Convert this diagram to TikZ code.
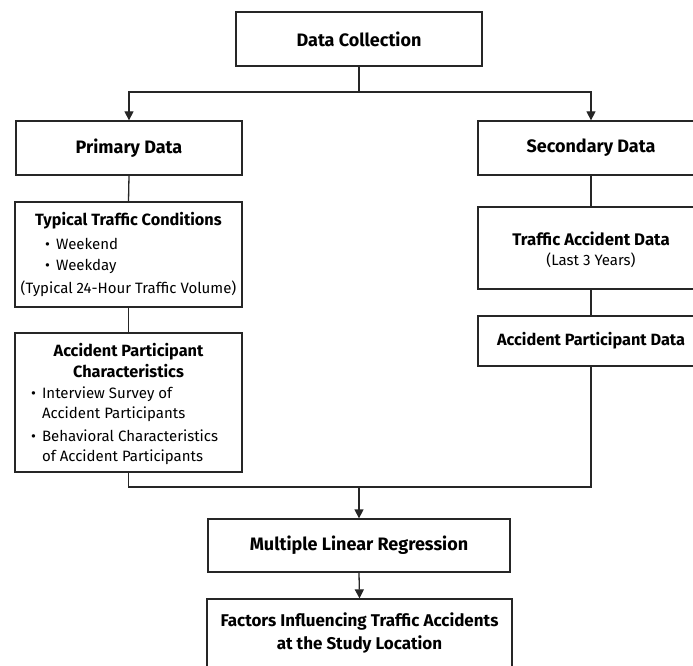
\documentclass[tikz,border=0pt]{standalone}
\usepackage{fontspec}
\setmainfont{Fira Sans}
\usetikzlibrary{arrows.meta}
\begin{document}
\begin{tikzpicture}[x=1pt,y=-1pt,
  box/.style={draw=black!85, line width=1.3pt, rectangle, inner sep=0pt, align=center},
  big/.style={font=\fontsize{18}{23}\selectfont\bfseries, align=center, inner sep=0pt},
  ttl/.style={font=\fontsize{16.3}{21}\selectfont\bfseries, align=center, inner sep=0pt},
  txt/.style={font=\fontsize{15}{20}\selectfont, align=left, inner sep=0pt},
  ln/.style={line width=1.3pt, draw=black!85},
  arr/.style={ln, -{Triangle[length=9pt,width=9pt]}}]
\clip (0,0) rectangle (693,666);
\fill[white] (0,0) rectangle (693,666);
% boxes
\node[box, big, minimum width=246pt, minimum height=54pt] (dc) at (359,39) {Data Collection};
\node[box, big, minimum width=226pt, minimum height=54pt] (pd) at (129,148) {Primary Data};
\node[box, big, minimum width=226pt, minimum height=54pt] (sd) at (591,148) {Secondary Data};
\node[box, minimum width=227pt, minimum height=105pt] (ttc) at (128.5,254.5) {};
\node[box, minimum width=227pt, minimum height=139pt] (apc) at (128.5,402.5) {};
\node[box, minimum width=226pt, minimum height=82pt] (tad) at (591,248) {};
\node[box, ttl, minimum width=226pt, minimum height=50pt] (apd) at (591,341) {Accident Participant Data};
\node[box, big, minimum width=302pt, minimum height=53pt] (mlr) at (359,545.5) {Multiple Linear Regression};
\node[box, minimum width=305pt, minimum height=82pt] (fac) at (359.5,640) {};
% texts inside
\node[ttl] (ttct) at (128.5,221) {Typical Traffic Conditions};
\node[txt, anchor=west] (ttc1) at (45,244) {•\hspace{6pt}Weekend};
\node[txt, anchor=west] (ttc2) at (45,266.5) {•\hspace{6pt}Weekday};
\node[txt] (ttc3) at (128.5,289) {(Typical 24-Hour Traffic Volume)};
\node[ttl] (apct) at (128.5,361) {Accident Participant\\Characteristics};
\node[txt, anchor=west] (apc1) at (31,404) {•\hspace{6pt}Interview Survey of\\\hphantom{•\hspace{6pt}}Accident Participants};
\node[txt, anchor=west] (apc2) at (31,447) {•\hspace{6pt}Behavioral Characteristics\\\hphantom{•\hspace{6pt}}of Accident Participants};
\node[txt, align=center] (tadt) at (591,250) {{\fontsize{16.8}{20}\selectfont\bfseries Traffic Accident Data}\\(Last 3 Years)};
\node[ttl, font=\fontsize{17}{23}\selectfont\bfseries] (fact) at (359.5,633) {Factors Influencing Traffic Accidents\\at the Study Location};
% connectors
\coordinate (jt) at (359,92);
\coordinate (jb) at (359,487);
\draw[ln] (dc.south) -- (jt);
\draw[arr] (jt) -| (pd.north);
\draw[arr] (jt) -| (sd.north);
\draw[ln] (pd.south) -- (ttc.north);
\draw[ln] (ttc.south) -- (apc.north);
\draw[ln] (sd.south) -- (tad.north);
\draw[ln] (tad.south) -- (apd.north);
\draw[ln] (apc.south) |- (apd.south |- jb) -- (apd.south);
\draw[arr] (jb) -- (mlr.north);
\draw[arr] (mlr.south) -- (fac.north);
\end{tikzpicture}
\end{document}
